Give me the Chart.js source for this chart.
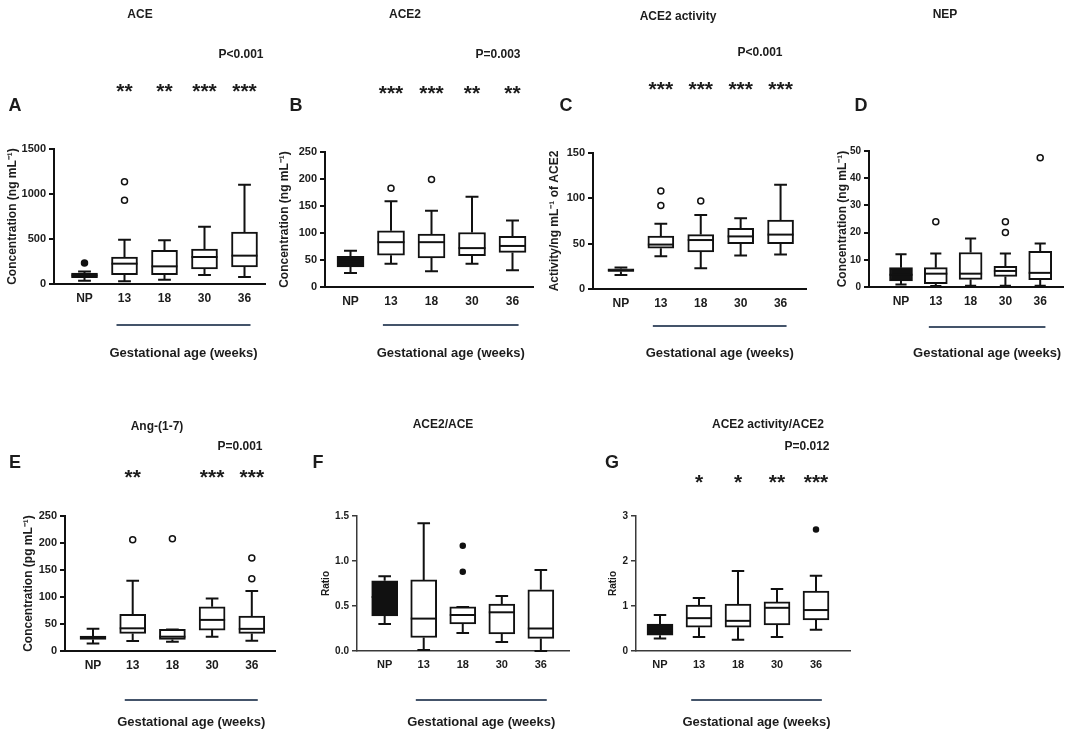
<!DOCTYPE html>
<html lang="en">
<head>
  <meta charset="UTF-8">
  <title>RAS components across gestation</title>
  <script src="https://cdn.jsdelivr.net/npm/chart.js"></script>
  <style>
    body {
      margin: 0;
      width: 1084px;
      height: 740px;
      position: relative;
      overflow: hidden;
      background: #fff;
    }

    canvas {
      position: absolute;
    }
  </style>
</head>
<body>
  <script>
    const groups = ['NP', '13', '18', '30', '36'];

    // A - ACE (ng/mL)
    const aceMin = [37, 30, 48, 100, 78];
    const aceQ1 = [70, 104, 104, 167, 189];
    const aceMed = [95, 226, 196, 300, 315];
    const aceQ3 = [120, 300, 374, 389, 578];
    const aceMax = [140, 493, 485, 637, 1104];
    const aceOut = [[233], [930, 1137], [], [], []];
    const aceTicks = [0, 500, 1000, 1500];
    const aceStars = ['', '**', '**', '***', '***'];

    // B - ACE2 (ng/mL)
    const ace2Min = [26, 43, 29, 43, 31];
    const ace2Q1 = [37, 59, 54, 58, 64];
    const ace2Med = [47, 83, 83, 72, 76];
    const ace2Q3 = [57, 104, 98, 101, 94];
    const ace2Max = [67, 159, 141, 167, 123];
    const ace2Out = [[], [183], [199], [], []];
    const ace2Ticks = [0, 50, 100, 150, 200, 250];
    const ace2Stars = ['', '***', '***', '**', '**'];

    // C - ACE2 activity
    const actMin = [15.4, 36, 23, 37, 38];
    const actQ1 = [19.4, 45, 41, 50, 50];
    const actMed = [20.5, 49, 54, 58, 60];
    const actQ3 = [22.3, 58.5, 60, 67, 76];
    const actMax = [23.8, 72, 81.6, 78, 115];
    const actOut = [[], [92, 108], [97], [], []];
    const actTicks = [0, 50, 100, 150];
    const actStars = ['', '***', '***', '***', '***'];

    // D - NEP (ng/mL)
    const nepMin = [0.9, 0.4, 0.5, 0.5, 0.5];
    const nepQ1 = [2.2, 1.2, 2.8, 3.9, 2.7];
    const nepMed = [4.5, 4.9, 4.9, 5.9, 5.2];
    const nepQ3 = [7.1, 7.1, 12.7, 7.6, 13.1];
    const nepMax = [12, 12.3, 17.8, 12.3, 16];
    const nepOut = [[], [24], [], [20, 24], [47.5]];
    const nepTicks = [0, 10, 20, 30, 40, 50];
    const nepStars = ['', '', '', '', ''];

    // E - Ang-(1-7) (pg/mL)
    const angMin = [14, 18.5, 17, 26.5, 19];
    const angQ1 = [21.5, 32.6, 21.5, 38.8, 32.6];
    const angMed = [25, 42, 26.5, 57.6, 41];
    const angQ3 = [27.7, 68, 40, 82, 64.7];
    const angMax = [41, 130, 40, 97, 111];
    const angOut = [[], [206], [208], [], [134, 172]];
    const angTicks = [0, 50, 100, 150, 200, 250];
    const angStars = ['', '**', '', '***', '***'];

    // F - ACE2/ACE
    const ratioMin = [0.30, 0.01, 0.20, 0.10, 0.0];
    const ratioQ1 = [0.39, 0.15, 0.30, 0.19, 0.14];
    const ratioMed = [0.60, 0.36, 0.40, 0.43, 0.25];
    const ratioQ3 = [0.78, 0.79, 0.49, 0.52, 0.68];
    const ratioMax = [0.83, 1.42, 0.49, 0.61, 0.90];
    const ratioOut = [[], [], [0.88, 1.17], [], []];
    const ratioTicks = [0, 0.5, 1.0, 1.5];
    const ratioStars = ['', '', '', '', ''];

    // G - ACE2 activity/ACE2
    const specMin = [0.28, 0.31, 0.25, 0.31, 0.47];
    const specQ1 = [0.35, 0.53, 0.53, 0.58, 0.69];
    const specMed = [0.45, 0.73, 0.67, 0.96, 0.91];
    const specQ3 = [0.60, 1.02, 1.04, 1.09, 1.33];
    const specMax = [0.80, 1.18, 1.78, 1.38, 1.67];
    const specOut = [[], [], [], [], [2.70]];
    const specTicks = [0, 1, 2, 3];
    const specStars = ['', '*', '*', '**', '***'];

    const FONT = '"Liberation Sans", Arial, sans-serif';
    const INK = '#1c1c1c';
    Chart.defaults.font.family = FONT;
    Chart.defaults.color = INK;

    // layout of each panel (page pixels)
    const panels = [
      { letter: 'A', title: 'ACE', pval: 'P<0.001', yTitle: 'Concentration (ng mL⁻¹)',
        min: aceMin, q1: aceQ1, med: aceMed, q3: aceQ3, max: aceMax, out: aceOut, ticks: aceTicks, stars: aceStars,
        box: { x: 0, y: 0, w: 272, h: 370 }, axisX: 54, firstX: 84.5, step: 40, rightX: 265, top: 149, bottom: 284,
        titleAt: [140, 15], pAt: [241, 55], starsY: 86, letterAt: [15, 106], yTitleX: 13, lineY: 325, ageY: 353,
        dec: 0, thin: false, filledOut: false, yFont: 11, yTitleSize: 12 },
      { letter: 'B', title: 'ACE2', pval: 'P=0.003', yTitle: 'Concentration (ng mL⁻¹)',
        min: ace2Min, q1: ace2Q1, med: ace2Med, q3: ace2Q3, max: ace2Max, out: ace2Out, ticks: ace2Ticks, stars: ace2Stars,
        box: { x: 272, y: 0, w: 268, h: 370 }, axisX: 325, firstX: 350.5, step: 40.5, rightX: 533, top: 152, bottom: 287,
        titleAt: [405, 15], pAt: [498, 55], starsY: 88, letterAt: [296, 106], yTitleX: 285, lineY: 325, ageY: 353,
        dec: 0, thin: false, filledOut: false, yFont: 11, yTitleSize: 12 },
      { letter: 'C', title: 'ACE2 activity', pval: 'P<0.001', yTitle: 'Activity/ng mL⁻¹ of ACE2',
        min: actMin, q1: actQ1, med: actMed, q3: actQ3, max: actMax, out: actOut, ticks: actTicks, stars: actStars,
        box: { x: 540, y: 0, w: 272, h: 370 }, axisX: 593, firstX: 621, step: 40, rightX: 807, top: 153, bottom: 289,
        titleAt: [678, 17], pAt: [760, 53], starsY: 84, letterAt: [566, 106], yTitleX: 555, lineY: 326, ageY: 353,
        dec: 0, thin: false, filledOut: false, yFont: 11, yTitleSize: 12 },
      { letter: 'D', title: 'NEP', pval: '', yTitle: 'Concentration (ng mL⁻¹)',
        min: nepMin, q1: nepQ1, med: nepMed, q3: nepQ3, max: nepMax, out: nepOut, ticks: nepTicks, stars: nepStars,
        box: { x: 812, y: 0, w: 272, h: 370 }, axisX: 869, firstX: 901, step: 34.8, rightX: 1063, top: 151, bottom: 287,
        titleAt: [945, 15], pAt: null, starsY: 86, letterAt: [861, 106], yTitleX: 843, lineY: 327, ageY: 353,
        dec: 0, thin: false, filledOut: false, yFont: 10, yTitleSize: 12 },
      { letter: 'E', title: 'Ang-(1-7)', pval: 'P=0.001', yTitle: 'Concentration (pg mL⁻¹)',
        min: angMin, q1: angQ1, med: angMed, q3: angQ3, max: angMax, out: angOut, ticks: angTicks, stars: angStars,
        box: { x: 0, y: 370, w: 285, h: 370 }, axisX: 65, firstX: 93, step: 39.7, rightX: 275, top: 516, bottom: 651,
        titleAt: [157, 427], pAt: [240, 447], starsY: 472, letterAt: [15, 463], yTitleX: 29, lineY: 700, ageY: 722,
        dec: 0, thin: false, filledOut: false, yFont: 11, yTitleSize: 12 },
      { letter: 'F', title: 'ACE2/ACE', pval: '', yTitle: 'Ratio',
        min: ratioMin, q1: ratioQ1, med: ratioMed, q3: ratioQ3, max: ratioMax, out: ratioOut, ticks: ratioTicks, stars: ratioStars,
        box: { x: 285, y: 370, w: 290, h: 370 }, axisX: 357, firstX: 385, step: 39.5, rightX: 572, top: 516, bottom: 651,
        titleAt: [443, 425], pAt: null, starsY: 472, letterAt: [318, 463], yTitleX: 326, lineY: 700, ageY: 722,
        dec: 1, thin: true, filledOut: true, yFont: 10, yTitleSize: 10 },
      { letter: 'G', title: 'ACE2 activity/ACE2', pval: 'P=0.012', yTitle: 'Ratio',
        min: specMin, q1: specQ1, med: specMed, q3: specQ3, max: specMax, out: specOut, ticks: specTicks, stars: specStars,
        box: { x: 575, y: 370, w: 300, h: 370 }, axisX: 636, firstX: 660, step: 39, rightX: 850, top: 516, bottom: 651,
        titleAt: [768, 425], pAt: [807, 447], starsY: 477, letterAt: [612, 463], yTitleX: 613, lineY: 700, ageY: 722,
        dec: 0, thin: true, filledOut: true, yFont: 10, yTitleSize: 10 }
    ];

    // whiskers, medians and the panel annotations
    function boxPlugin(p) {
      const bw = Math.round(p.step * 0.66);
      return {
        id: 'box' + p.letter,
        beforeDatasetsDraw(chart) {
          const { ctx, scales: { x, y } } = chart;
          const cap = p.step * 0.16;
          ctx.save();
          ctx.strokeStyle = '#111';
          ctx.lineWidth = 2;
          p.q1.forEach((q, i) => {
            const cx = x.getPixelForValue(i + 1);
            const yLo = y.getPixelForValue(p.min[i]);
            const yHi = y.getPixelForValue(p.max[i]);
            ctx.beginPath();
            ctx.moveTo(cx, y.getPixelForValue(p.q3[i]));
            ctx.lineTo(cx, yHi);
            ctx.moveTo(cx - cap, yHi);
            ctx.lineTo(cx + cap, yHi);
            ctx.moveTo(cx, y.getPixelForValue(q));
            ctx.lineTo(cx, yLo);
            ctx.moveTo(cx - cap, yLo);
            ctx.lineTo(cx + cap, yLo);
            ctx.stroke();
          });
          ctx.restore();
        },
        afterDatasetsDraw(chart) {
          const { ctx, scales: { x, y } } = chart;
          ctx.save();
          ctx.strokeStyle = '#111';
          ctx.lineWidth = 2;
          p.med.forEach((m, i) => {
            const cx = x.getPixelForValue(i + 1);
            const ym = y.getPixelForValue(m);
            ctx.beginPath();
            ctx.moveTo(cx - bw / 2, ym);
            ctx.lineTo(cx + bw / 2, ym);
            ctx.stroke();
          });
          ctx.restore();
        },
        afterDraw(chart) {
          const { ctx, scales: { x } } = chart;
          const ox = p.box.x, oy = p.box.y;
          ctx.save();
          ctx.fillStyle = INK;
          ctx.textAlign = 'center';
          ctx.textBaseline = 'middle';

          ctx.font = 'bold 12px ' + FONT;
          ctx.fillText(p.title, p.titleAt[0] - ox, p.titleAt[1] - oy);
          if (p.pAt) ctx.fillText(p.pval, p.pAt[0] - ox, p.pAt[1] - oy);

          ctx.font = 'bold 18px ' + FONT;
          ctx.fillText(p.letter, p.letterAt[0] - ox, p.letterAt[1] - oy);

          // significance vs NP, asterisks sit high in the em box
          ctx.font = 'bold 21px ' + FONT;
          ctx.textBaseline = 'alphabetic';
          p.stars.forEach((s, i) => {
            if (s) ctx.fillText(s, x.getPixelForValue(i + 1), p.starsY - oy + 12);
          });

          // bar under the gestation groups
          const x0 = x.getPixelForValue(2) - p.step * 0.2;
          const x1 = x.getPixelForValue(5) + p.step * 0.15;
          ctx.strokeStyle = '#44546a';
          ctx.lineWidth = 2;
          ctx.beginPath();
          ctx.moveTo(x0, p.lineY - oy);
          ctx.lineTo(x1, p.lineY - oy);
          ctx.stroke();

          ctx.textBaseline = 'middle';
          ctx.font = 'bold 13px ' + FONT;
          ctx.fillText('Gestational age (weeks)', (x0 + x1) / 2, p.ageY - oy);
          ctx.restore();
        }
      };
    }

    panels.forEach(p => {
      const canvas = document.createElement('canvas');
      canvas.width = p.box.w;
      canvas.height = p.box.h;
      canvas.style.left = p.box.x + 'px';
      canvas.style.top = p.box.y + 'px';
      canvas.style.width = p.box.w + 'px';
      canvas.style.height = p.box.h + 'px';
      document.body.appendChild(canvas);

      const axisColor = p.thin ? '#3a3a3a' : '#111';
      const axisWidth = p.thin ? 1.5 : 2;
      const xFont = p.thin ? 11 : 12;
      const xH = 40;

      const outPts = [];
      const outFill = [];
      p.out.forEach((vals, i) => vals.forEach(v => {
        outPts.push({ x: i + 1, y: v });
        outFill.push(p.filledOut || i === 0 ? '#111' : '#fff');
      }));

      new Chart(canvas.getContext('2d'), {
        type: 'bar',
        data: {
          datasets: [{
            type: 'bar',
            data: p.q1.map((q, i) => ({ x: i + 1, y: [q, p.q3[i]] })),
            backgroundColor: p.q1.map((q, i) => i === 0 ? '#111' : '#fff'),
            borderColor: '#111',
            borderWidth: 2,
            borderSkipped: false,
            barThickness: Math.round(p.step * 0.66)
          }, {
            type: 'scatter',
            data: outPts,
            pointRadius: p.filledOut ? 2.5 : 3,
            pointBackgroundColor: outFill,
            pointBorderColor: '#111',
            pointBorderWidth: 1.5
          }]
        },
        options: {
          responsive: false,
          animation: false,
          events: [],
          layout: {
            padding: {
              left: 0,
              top: p.top - p.box.y,
              right: p.box.x + p.box.w - p.rightX,
              bottom: p.box.y + p.box.h - p.bottom - xH
            }
          },
          plugins: {
            legend: { display: false },
            tooltip: { enabled: false }
          },
          scales: {
            x: {
              type: 'linear',
              offset: false,
              min: 1 - (p.firstX - p.axisX) / p.step,
              max: 1 + (p.rightX - p.firstX) / p.step,
              grid: { display: false, drawTicks: false, offset: false },
              border: { display: true, color: axisColor, width: axisWidth },
              afterBuildTicks: s => { s.ticks = groups.map((g, i) => ({ value: i + 1 })); },
              ticks: {
                autoSkip: false,
                maxRotation: 0,
                padding: 7,
                color: INK,
                font: { size: xFont, weight: 'bold' },
                callback: v => groups[v - 1]
              },
              afterFit: s => { s.height = xH; }
            },
            y: {
              min: 0,
              max: p.ticks[p.ticks.length - 1],
              afterBuildTicks: s => { s.ticks = p.ticks.map(v => ({ value: v })); },
              grid: { drawOnChartArea: false, drawTicks: true, tickLength: 5, color: axisColor, lineWidth: axisWidth },
              border: { display: true, color: axisColor, width: axisWidth },
              ticks: {
                padding: 3,
                color: INK,
                font: { size: p.yFont, weight: 'bold' },
                callback: v => v.toFixed(p.dec)
              },
              title: {
                display: true,
                text: p.yTitle,
                color: INK,
                font: { size: p.yTitleSize, weight: 'bold' },
                padding: { top: p.yTitleX - p.box.x - p.yTitleSize * 0.6, bottom: 0 }
              },
              afterFit: s => { s.width = p.axisX - p.box.x; }
            }
          }
        },
        plugins: [boxPlugin(p)]
      });
    });
  </script>
</body>
</html>
